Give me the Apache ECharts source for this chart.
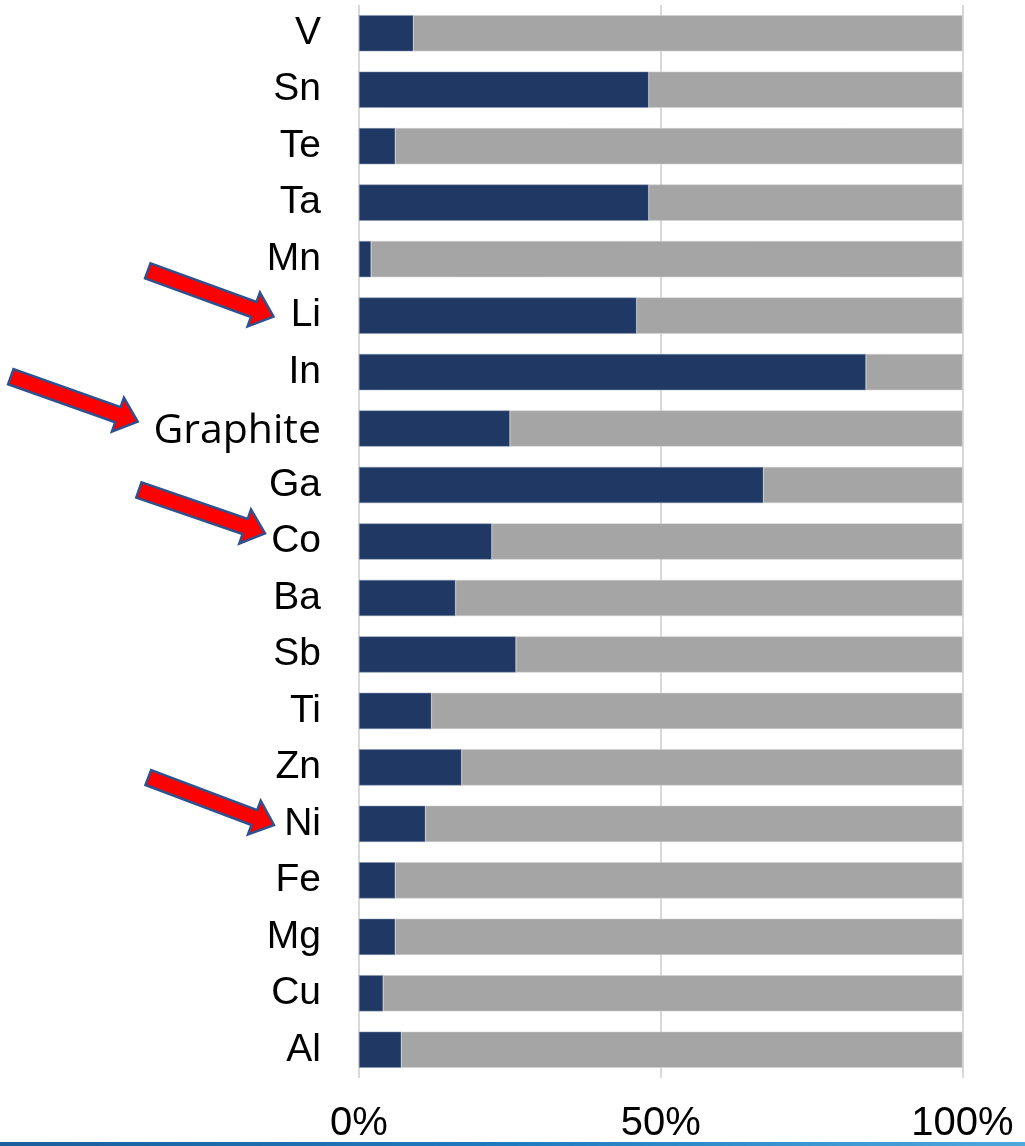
<!DOCTYPE html>
<html>
<head>
<meta charset="utf-8">
<script src="https://cdn.jsdelivr.net/npm/echarts@6/dist/echarts.min.js"></script>
<style>
html,body{margin:0;padding:0;background:#fff;}
#chart{width:1025px;height:1146px;}
</style>
</head>
<body>
<div id="chart"></div>
<script>
var categories = ['V','Sn','Te','Ta','Mn','Li','In','Graphite','Ga','Co','Ba','Sb','Ti','Zn','Ni','Fe','Mg','Cu','Al'];
var shareA = [9,48,6,48,2,46,84,25,67,22,16,26,12,17,11,6,6,4,7];
var shareB = [91,52,94,52,98,54,16,75,33,78,84,74,88,83,89,94,94,96,93];
var xTicks = [0,50,100];

function arrow(tx, ty, hx, hy) {
  var dx = hx - tx, dy = hy - ty, L = Math.sqrt(dx*dx + dy*dy);
  var ux = dx / L, uy = dy / L, nx = -uy, ny = ux;
  var sw = 8, hw = 18, hl = 21;
  var bx = hx - ux*hl, by = hy - uy*hl;
  return [
    [tx + nx*sw, ty + ny*sw],
    [bx + nx*sw, by + ny*sw],
    [bx + nx*hw, by + ny*hw],
    [hx, hy],
    [bx - nx*hw, by - ny*hw],
    [bx - nx*sw, by - ny*sw],
    [tx - nx*sw, ty - ny*sw]
  ];
}
var arrows = [
  arrow(147.8, 270.8, 273.5, 316.7),
  arrow(10.8, 376.7, 137.7, 421.7),
  arrow(138.9, 490, 265, 533.3),
  arrow(148.3, 777.5, 274, 825)
];

var chart = echarts.init(document.getElementById('chart'));
chart.setOption({
  animation: false,
  backgroundColor: '#ffffff',
  grid: {left: 359, right: 62.5, top: 5, bottom: 68, containLabel: false},
  xAxis: {
    type: 'value', min: 0, max: 100, interval: 50,
    axisLine: {show: false}, axisTick: {show: false},
    splitLine: {show: true, lineStyle: {color: '#D9D9D9', width: 2}},
    axisLabel: {
      fontFamily: 'Liberation Sans, Arial, sans-serif', fontSize: 40, color: '#000',
      margin: 26,
      formatter: function (v) { return xTicks.indexOf(v) >= 0 ? v + '%' : ''; }
    }
  },
  yAxis: {
    type: 'category', data: categories, inverse: true,
    axisLine: {show: false}, axisTick: {show: false}, splitLine: {show: false},
    axisLabel: {
      fontFamily: 'Liberation Sans, Arial, sans-serif', fontSize: 39, color: '#000', margin: 38,
      formatter: function (v) { return v === 'Graphite' ? '{g|' + v + '}' : v; },
      rich: {g: {fontFamily: 'Open Sans, sans-serif', fontSize: 41, color: '#000', padding: [6, 0, 0, 0]}}
    }
  },
  series: [
    {type: 'bar', stack: 's', data: shareA, barCategoryGap: '36%',
     itemStyle: {color: '#203864', borderColor: '#8497B0', borderWidth: 0.5}},
    {type: 'bar', stack: 's', data: shareB, barCategoryGap: '36%',
     itemStyle: {color: '#A5A5A5', borderColor: '#D0D0D0', borderWidth: 0.5}}
  ],
  graphic: arrows.map(function (pts) {
    return {type: 'polygon', shape: {points: pts}, z: 100,
      style: {fill: '#FF0000', stroke: '#2F528F', lineWidth: 2.5, lineJoin: 'miter'}};
  }).concat([{
    type: 'rect', left: 0, top: 1142, z: 100,
    shape: {width: 1025, height: 4},
    style: {fill: new echarts.graphic.LinearGradient(0, 0, 1, 0, [
      {offset: 0, color: '#1B5E9C'}, {offset: 0.5, color: '#1F7BC0'}, {offset: 1, color: '#4FA8DC'}
    ])}
  }])
});
</script>
</body>
</html>
